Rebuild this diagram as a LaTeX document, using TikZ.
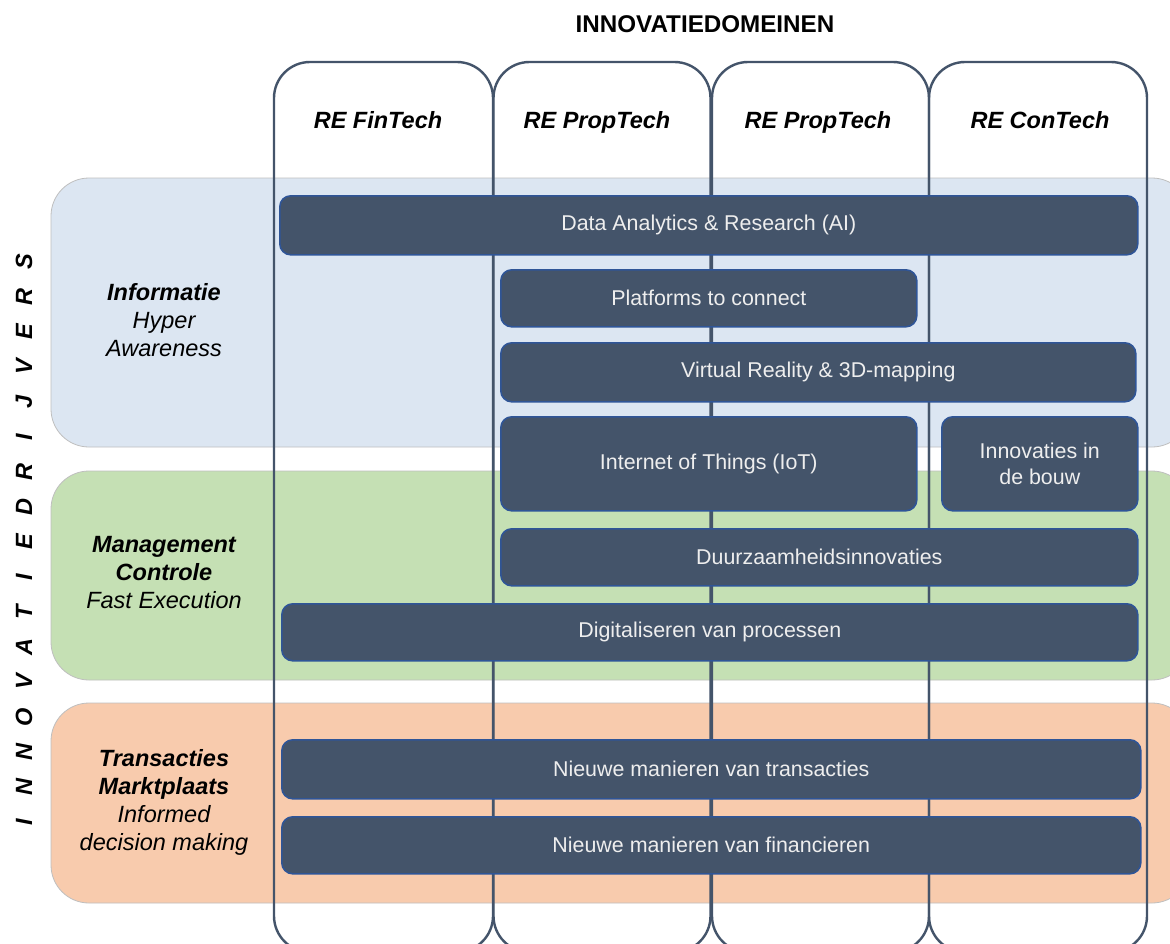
\documentclass[tikz,border=0pt]{standalone}
\usepackage{fontspec}
\setmainfont{Liberation Sans}
\definecolor{slate}{HTML}{44546A}
\definecolor{slateedge}{HTML}{2F5597}
\definecolor{boxtext}{HTML}{EEEEEE}
\definecolor{bandblue}{HTML}{DCE6F2}
\definecolor{bandgreen}{HTML}{C5E0B4}
\definecolor{bandorange}{HTML}{F8CBAD}
\definecolor{bandedge}{HTML}{BFBFBF}
\begin{document}
\begin{tikzpicture}[x=1pt,y=-1pt,
  domaincol/.style={draw=slate, line width=2.4pt, rounded corners=36pt},
  bandrow/.style={draw=bandedge, line width=0.8pt, rounded corners=38pt},
  tilebox/.style={draw=slateedge, fill=slate, line width=1.6pt, rounded corners=11pt,
    text=boxtext, font=\fontsize{21.4}{25.5}\selectfont, align=center,
    anchor=north west, inner sep=0pt},
  colhead/.style={anchor=base, font=\fontsize{23.5}{28}\selectfont\bfseries\itshape},
  maintitle/.style={anchor=base, font=\fontsize{24.2}{28}\selectfont\bfseries},
  drvlabel/.style={align=center, font=\fontsize{23.5}{28}\selectfont\itshape},
  vletter/.style={rotate=90, font=\fontsize{23.5}{28}\selectfont\bfseries\itshape},
]
\useasboundingbox (0,0) rectangle (1170,943);
\fill[white] (0,0) rectangle (1170,943);

% innovation driver bands
\draw[bandrow, fill=bandblue]   (51,178) rectangle (1190,447);
\draw[bandrow, fill=bandgreen]  (51,471) rectangle (1190,680);
\draw[bandrow, fill=bandorange] (51,703) rectangle (1190,903);

% innovation domain columns
\draw[domaincol] (274,62)   rectangle (493,952);
\draw[domaincol] (493.5,62) rectangle (710.5,952);
\draw[domaincol] (712,62)   rectangle (929,952);
\draw[domaincol] (929,62)   rectangle (1147,952);

% title and column headers
\node[maintitle] (title) at (705,32) {INNOVATIEDOMEINEN};
\node[colhead] (fintech)   at (378,128)  {RE FinTech};
\node[colhead] (proptech)  at (597,128)  {RE PropTech};
\node[colhead] (proptechb) at (818,128)  {RE PropTech};
\node[colhead] (contech)   at (1040,128) {RE ConTech};

% vertical driver caption
\foreach \c [count=\i] in {I,N,N,O,V,A,T,I,E,D,R,I,J,V,E,R,S}
  \node[vletter] (v\i) at (24, {822-(\i-1)*35}) {\c};

% driver labels
\node[drvlabel] (info) at (164,320) {\textbf{Informatie}\\Hyper\\Awareness};
\node[drvlabel] (mgmt) at (164,573) {\textbf{Management}\\\textbf{Controle}\\Fast Execution};
\node[drvlabel] (trx)  at (164,802) {\textbf{Transacties}\\\textbf{Marktplaats}\\Informed\\decision making};

% innovation topics
\node[tilebox, minimum width=858pt, minimum height=59pt] (data)  at (279,195) {Data Analytics \& Research (AI)};
\node[tilebox, minimum width=416pt, minimum height=57pt] (platf) at (500,269) {Platforms to connect};
\node[tilebox, minimum width=635pt, minimum height=59pt] (vr)    at (500,342) {Virtual Reality \& 3D-mapping};
\node[tilebox, minimum width=416pt, minimum height=94pt] (iot)   at (500,416) {Internet of Things (IoT)};
\node[tilebox, minimum width=196pt, minimum height=94pt] (bouw)  at (941,416) {Innovaties in\\de bouw};
\node[tilebox, minimum width=637pt, minimum height=57pt] (duurz) at (500,528) {Duurzaamheidsinnovaties};
\node[tilebox, minimum width=856pt, minimum height=57pt] (digit) at (281,603) {Digitaliseren van processen};
\node[tilebox, minimum width=859pt, minimum height=59pt] (trans) at (281,739) {Nieuwe manieren van transacties};
\node[tilebox, minimum width=859pt, minimum height=57pt] (finan) at (281,816) {Nieuwe manieren van financieren};
\end{tikzpicture}
\end{document}
